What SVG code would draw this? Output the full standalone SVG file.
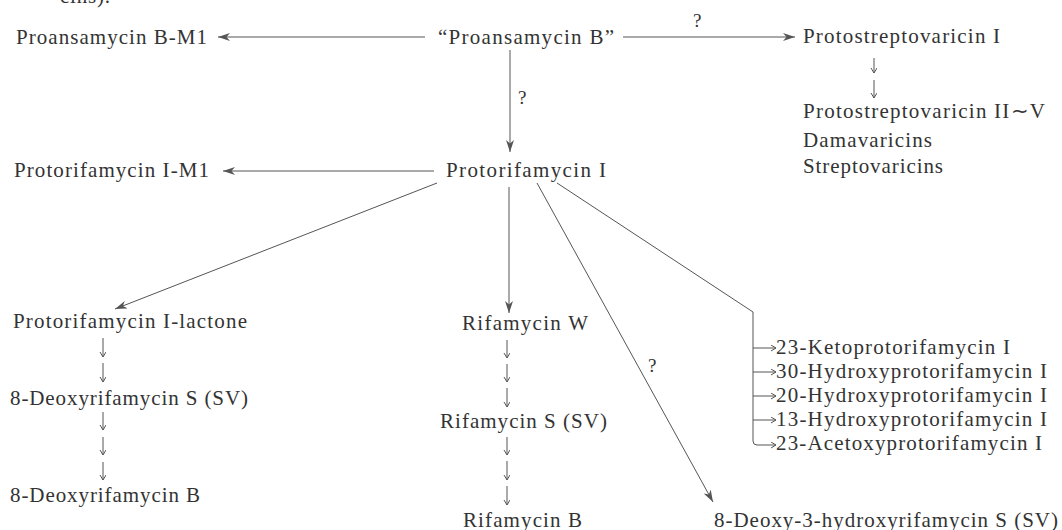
<svg xmlns="http://www.w3.org/2000/svg" width="1062" height="530" viewBox="0 0 1062 530">
  <defs>
    <style>
      text { font-family: "Liberation Serif", "Times New Roman", serif; font-size: 21px; fill: #333; }
      .q { font-size: 19px; }
      .edge { fill: none; stroke: #555; stroke-width: 1; }
      .main { marker-end: url(#head); }
      .step { marker-end: url(#small); }
    </style>
    <marker id="head" markerUnits="userSpaceOnUse" markerWidth="14" markerHeight="10" refX="12" refY="4" orient="auto">
      <path d="M0,0 L12,4 L0,8 L3.5,4 Z" fill="#555"/>
    </marker>
    <marker id="small" markerUnits="userSpaceOnUse" markerWidth="8" markerHeight="8" refX="5" refY="3" orient="auto">
      <path d="M0,0 L5,3 L0,6" fill="none" stroke="#555" stroke-width="1"/>
    </marker>
  </defs>

  <!-- running text cut at the top edge -->
  <text x="60" y="3" textLength="50" lengthAdjust="spacing">cins).</text>

  <!-- connectors -->
  <g id="connectors">
    <path class="edge main" d="M425,37 H218"/>
    <path class="edge main" d="M623,37 H795"/>
    <path class="edge main" d="M510,50 V152"/>
    <path class="edge main" d="M434,171 H223"/>
    <path class="edge main" d="M437,183 L115,309"/>
    <path class="edge main" d="M509,187 V313"/>
    <path class="edge main" d="M537,183 L713,502"/>
    <!-- bracket feeding the five hydroxylated / oxidised products -->
    <path class="edge step" d="M557,183 L753,312 V441 Q753,445 757,445 H776"/>
    <path class="edge step" d="M753,348 H776"/>
    <path class="edge step" d="M753,372 H776"/>
    <path class="edge step" d="M753,396 H776"/>
    <path class="edge step" d="M753,420 H776"/>
    <!-- stepwise arrows -->
    <path class="edge step" d="M874,58 V73"/>
    <path class="edge step" d="M874,80 V98"/>
    <path class="edge step" d="M103,338 V357"/>
    <path class="edge step" d="M103,363 V382"/>
    <path class="edge step" d="M103,412 V430"/>
    <path class="edge step" d="M103,437 V455"/>
    <path class="edge step" d="M103,462 V480"/>
    <path class="edge step" d="M507,340 V358"/>
    <path class="edge step" d="M507,364 V382"/>
    <path class="edge step" d="M507,388 V407"/>
    <path class="edge step" d="M507,437 V455"/>
    <path class="edge step" d="M507,461 V480"/>
    <path class="edge step" d="M507,486 V505"/>
    <text class="q" x="693" y="27">?</text>
    <text class="q" x="518" y="104">?</text>
    <text class="q" x="648" y="372">?</text>
  </g>

  <g id="proansamycin-b-m1"><text x="16" y="44" textLength="191" lengthAdjust="spacing">Proansamycin B-M1</text></g>
  <g id="proansamycin-b"><text x="438" y="44" textLength="176" lengthAdjust="spacing">“Proansamycin B”</text></g>
  <g id="protostreptovaricin-i"><text x="803" y="43" textLength="197" lengthAdjust="spacing">Protostreptovaricin I</text></g>
  <g id="streptovaricin-group">
    <text x="803" y="118" textLength="242" lengthAdjust="spacing">Protostreptovaricin II∼V</text>
    <text x="803" y="147" textLength="129" lengthAdjust="spacing">Damavaricins</text>
    <text x="803" y="173" textLength="140" lengthAdjust="spacing">Streptovaricins</text>
  </g>
  <g id="protorifamycin-i-m1"><text x="14" y="177" textLength="195" lengthAdjust="spacing">Protorifamycin I-M1</text></g>
  <g id="protorifamycin-i"><text x="446" y="177" textLength="160" lengthAdjust="spacing">Protorifamycin I</text></g>
  <g id="protorifamycin-i-lactone"><text x="13" y="328" textLength="234" lengthAdjust="spacing">Protorifamycin I-lactone</text></g>
  <g id="deoxyrifamycin-s"><text x="10" y="405" textLength="238" lengthAdjust="spacing">8-Deoxyrifamycin S (SV)</text></g>
  <g id="deoxyrifamycin-b"><text x="10" y="502" textLength="190" lengthAdjust="spacing">8-Deoxyrifamycin B</text></g>
  <g id="rifamycin-w"><text x="462" y="330" textLength="126" lengthAdjust="spacing">Rifamycin W</text></g>
  <g id="rifamycin-s"><text x="440" y="428" textLength="167" lengthAdjust="spacing">Rifamycin S (SV)</text></g>
  <g id="rifamycin-b"><text x="463" y="527" textLength="119" lengthAdjust="spacing">Rifamycin B</text></g>
  <g id="deoxy-hydroxyrifamycin-s"><text x="714" y="527" textLength="344" lengthAdjust="spacing">8-Deoxy-3-hydroxyrifamycin S (SV)</text></g>
  <g id="protorifamycin-derivatives">
    <text x="776" y="354" textLength="234" lengthAdjust="spacing">23-Ketoprotorifamycin I</text>
    <text x="776" y="378" textLength="271" lengthAdjust="spacing">30-Hydroxyprotorifamycin I</text>
    <text x="776" y="402" textLength="271" lengthAdjust="spacing">20-Hydroxyprotorifamycin I</text>
    <text x="776" y="426" textLength="271" lengthAdjust="spacing">13-Hydroxyprotorifamycin I</text>
    <text x="776" y="450" textLength="266" lengthAdjust="spacing">23-Acetoxyprotorifamycin I</text>
  </g>
</svg>
